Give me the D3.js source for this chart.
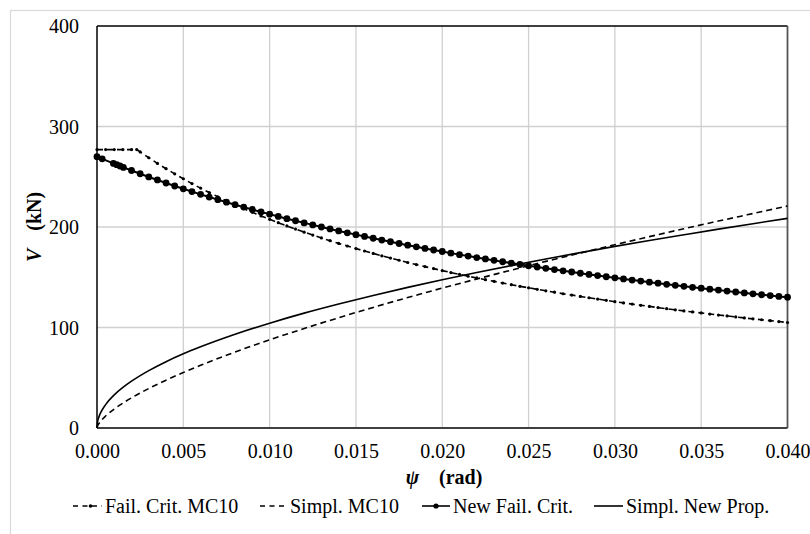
<!DOCTYPE html>
<html><head><meta charset="utf-8">
<script src="https://cdn.jsdelivr.net/npm/d3@7"></script>
<style>body{margin:0;background:#fff}svg{display:block}text{font-family:"Liberation Serif","Times New Roman",serif;fill:#000}</style>
</head><body><svg id="c" width="810" height="534"></svg>
<script>
// ---- data (psi in rad, V in kN) ----
const xTicks = [0,0.005,0.010,0.015,0.020,0.025,0.030,0.035,0.040];
const yTicks = [0,100,200,300,400];
const seriesNames = ["Fail. Crit. MC10","Simpl. MC10","New Fail. Crit.","Simpl. New Prop."];

const failMC10Psi = [0,0.0005,0.001,0.0015,0.002,0.0023,0.0025,0.003,0.0035,0.004,0.0045,0.005,0.0055,0.006,0.0065,0.007,0.0075,0.008,0.0085,0.009,0.0095,0.010,0.0105,0.011,0.0115,0.012,0.0125,0.013,0.0135,0.014,0.0145,0.015,0.0155,0.016,0.0165,0.017,0.0175,0.018,0.0185,0.019,0.0195,0.020,0.0205,0.021,0.0215,0.022,0.0225,0.023,0.0235,0.024,0.0245,0.025,0.0255,0.026,0.0265,0.027,0.0275,0.028,0.0285,0.029,0.0295,0.030,0.0305,0.031,0.0315,0.032,0.0325,0.033,0.0335,0.034,0.0345,0.035,0.0355,0.036,0.0365,0.037,0.0375,0.038,0.0385,0.039,0.0395,0.040];
const failMC10V = [277,277,277,277,277,277,274.7,268.9,263.3,258.0,252.9,248.0,243.2,238.7,234.3,230.1,226.0,222.1,218.3,214.6,211.0,207.6,204.3,201.1,197.9,194.9,192.0,189.1,186.4,183.7,181.1,178.5,176.1,173.7,171.3,169.1,166.9,164.7,162.6,160.6,158.6,156.6,154.7,152.9,151.0,149.3,147.6,145.9,144.2,142.6,141.0,139.5,138.0,136.5,135.1,133.6,132.3,130.9,129.6,128.3,127.0,125.7,124.5,123.3,122.1,121.0,119.8,118.7,117.6,116.5,115.5,114.5,113.4,112.4,111.5,110.5,109.5,108.6,107.7,106.8,105.9,105.0];

const simplMC10Psi = [0,0.00003,0.0001,0.00025,0.0005,0.001,0.0015,0.002,0.003,0.004,0.005,0.006,0.008,0.010,0.012,0.014,0.016,0.018,0.020,0.022,0.024,0.026,0.028,0.030,0.032,0.034,0.036,0.038,0.040];
const simplMC10V = [0,1.8,4.1,7.5,11.9,18.9,24.7,30.0,39.3,47.6,55.2,62.4,75.6,87.7,99.0,109.7,120.0,129.8,139.2,148.3,157.1,165.8,174.1,182.4,190.4,198.3,205.9,213.4,220.9];

const newFailPsi = [0,0.0003,0.00095,0.00114,0.00133,0.00153,0.002,0.0025,0.003,0.0035,0.004,0.0045,0.005,0.0055,0.006,0.0065,0.007,0.0075,0.008,0.0085,0.009,0.0095,0.010,0.0105,0.011,0.0115,0.012,0.0125,0.013,0.0135,0.014,0.0145,0.015,0.0155,0.016,0.0165,0.017,0.0175,0.018,0.0185,0.019,0.0195,0.020,0.0205,0.021,0.0215,0.022,0.0225,0.023,0.0235,0.024,0.0245,0.025,0.0255,0.026,0.0265,0.027,0.0275,0.028,0.0285,0.029,0.0295,0.030,0.0305,0.031,0.0315,0.032,0.0325,0.033,0.0335,0.034,0.0345,0.035,0.0355,0.036,0.0365,0.037,0.0375,0.038,0.0385,0.039,0.0395,0.040];
const newFailV = [270,267.8,263.3,262.0,260.7,259.3,256.2,253.0,249.8,246.8,243.8,240.8,238.0,235.2,232.5,229.8,227.2,224.7,222.2,219.8,217.4,215.0,212.8,210.5,208.3,206.2,204.1,202.1,200.0,198.1,196.1,194.2,192.4,190.6,188.8,187.0,185.3,183.6,181.9,180.3,178.7,177.1,175.6,174.0,172.5,171.1,169.6,168.2,166.8,165.4,164.1,162.7,161.4,160.1,158.9,157.6,156.4,155.2,154.0,152.8,151.7,150.5,149.4,148.3,147.2,146.2,145.1,144.1,143.0,142.0,141.0,140.0,139.1,138.1,137.2,136.2,135.3,134.4,133.5,132.6,131.8,130.9,130.1];

const simplNewPsi = [0,0.00003,0.0001,0.00025,0.0005,0.001,0.0015,0.002,0.003,0.004,0.005,0.006,0.008,0.010,0.012,0.014,0.016,0.018,0.020,0.022,0.024,0.026,0.028,0.030,0.032,0.034,0.036,0.038,0.040];
const simplNewV = [0,5.7,10.4,16.5,23.3,33.0,40.4,46.6,57.1,66.0,73.8,80.8,93.3,104.3,114.3,123.4,131.9,139.9,147.5,154.7,161.6,168.2,174.5,180.7,186.6,192.3,197.9,203.3,208.6];

// ---- drawing ----
const svg = d3.select("#c");
const L=97, R=787.5, T=26, B=428;
const x = d3.scaleLinear().domain([0,0.04]).range([L,R]);
const y = d3.scaleLinear().domain([0,400]).range([B,T]);
const zip = (a,b)=>a.map((v,i)=>[v,b[i]]);

// outer chart border
svg.append("rect").attr("x",10.5).attr("y",10.5).attr("width",830).attr("height",540)
  .attr("fill","none").attr("stroke","#d9d9d9").attr("stroke-width",1.2);

// grid
const g = svg.append("g");
g.selectAll("line.vg").data(xTicks.slice(1,-1)).join("line")
  .attr("x1",d=>x(d)).attr("x2",d=>x(d)).attr("y1",T).attr("y2",B)
  .attr("stroke","#d0d0d0").attr("stroke-width",1.3);
g.selectAll("line.hg").data(yTicks.slice(1,-1)).join("line")
  .attr("x1",L).attr("x2",R).attr("y1",d=>y(d)).attr("y2",d=>y(d))
  .attr("stroke","#d0d0d0").attr("stroke-width",1.3);

// frame
svg.append("line").attr("x1",L).attr("x2",R).attr("y1",T).attr("y2",T).attr("stroke","#000").attr("stroke-width",1.3);
svg.append("line").attr("x1",R).attr("x2",R).attr("y1",T).attr("y2",B).attr("stroke","#555").attr("stroke-width",1.8);
svg.append("line").attr("x1",L).attr("x2",R).attr("y1",B).attr("y2",B).attr("stroke","#404040").attr("stroke-width",2);
svg.append("line").attr("x1",L).attr("x2",L).attr("y1",T).attr("y2",B).attr("stroke","#000").attr("stroke-width",1.5);

// tick labels via axes
const xAxis = d3.axisBottom(x).tickValues(xTicks).tickFormat(d3.format(".3f")).tickSize(0).tickPadding(0);
const xa = svg.append("g").attr("transform",`translate(0,${B})`).call(xAxis);
xa.select(".domain").remove();
xa.selectAll("text").attr("dy",null).attr("y",30).style("font-size","20px").style("font-family",'"Liberation Serif","Times New Roman",serif').attr("fill","#000");
const yAxis = d3.axisLeft(y).tickValues(yTicks).tickFormat(d3.format("d")).tickSize(0).tickPadding(0);
const ya = svg.append("g").attr("transform",`translate(${L},0)`).call(yAxis);
ya.select(".domain").remove();
ya.selectAll("text").attr("x",-18).attr("dy","0.34em").style("font-size","20px").style("font-family",'"Liberation Serif","Times New Roman",serif').attr("fill","#000");

// axis titles
const xt = svg.append("text").attr("x",444).attr("y",484).attr("text-anchor","middle").style("font-size","20px").style("font-weight","bold");
xt.append("tspan").style("font-style","italic").text("ψ");
xt.append("tspan").attr("dx",20).text("(rad)");
const yt = svg.append("text").attr("transform","translate(41,227) rotate(-90)").attr("text-anchor","middle").style("font-size","20px").style("font-weight","bold");
yt.append("tspan").style("font-style","italic").text("V");
yt.append("tspan").attr("dx",18).text("(kN)");

// lines
const line = d3.line().x(d=>x(d[0])).y(d=>y(d[1]));
const lineSmooth = d3.line().x(d=>x(d[0])).y(d=>y(d[1])).curve(d3.curveMonotoneX);
const plot = svg.append("g");

plot.append("path").datum(zip(simplMC10Psi,simplMC10V)).attr("d",lineSmooth)
  .attr("fill","none").attr("stroke","#000").attr("stroke-width",1.6).attr("stroke-dasharray","6,4");
plot.append("path").datum(zip(simplNewPsi,simplNewV)).attr("d",lineSmooth)
  .attr("fill","none").attr("stroke","#000").attr("stroke-width",1.6);

const fm = zip(failMC10Psi,failMC10V);
plot.append("path").datum(fm).attr("d",line)
  .attr("fill","none").attr("stroke","#000").attr("stroke-width",1.6).attr("stroke-dasharray","6,4");
plot.selectAll("circle.fm").data(fm).join("circle").attr("class","fm")
  .attr("cx",d=>x(d[0])).attr("cy",d=>y(d[1])).attr("r",1.6).attr("fill","#000");

const nf = zip(newFailPsi,newFailV);
plot.append("path").datum(nf).attr("d",line)
  .attr("fill","none").attr("stroke","#000").attr("stroke-width",2);
plot.selectAll("circle.nf").data(nf).join("circle").attr("class","nf")
  .attr("cx",d=>x(d[0])).attr("cy",d=>y(d[1])).attr("r",3.4).attr("fill","#000");

// legend
const legY = 506, legBase = 513;
const leg = [
  {x0:73,x1:102,tx:105,dash:"5,4.5",dot:1.8},
  {x0:260,x1:288,tx:290,dash:"5,4.5",dot:0},
  {x0:422,x1:450,tx:453,dash:null,dot:2.6},
  {x0:594,x1:623,tx:626,dash:null,dot:0}
];
const lg = svg.append("g");
leg.forEach((d,i)=>{
  const ln = lg.append("line").attr("x1",d.x0).attr("x2",d.x1).attr("y1",legY).attr("y2",legY)
    .attr("stroke","#000").attr("stroke-width",1.6);
  if(d.dash) ln.attr("stroke-dasharray",d.dash);
  if(d.dot) lg.append("circle").attr("cx",(d.x0+d.x1)/2+ (i===0?3:0)).attr("cy",legY).attr("r",d.dot).attr("fill","#000");
  lg.append("text").attr("x",d.tx).attr("y",legBase).style("font-size","20px").text(seriesNames[i]);
});
</script></body></html>
